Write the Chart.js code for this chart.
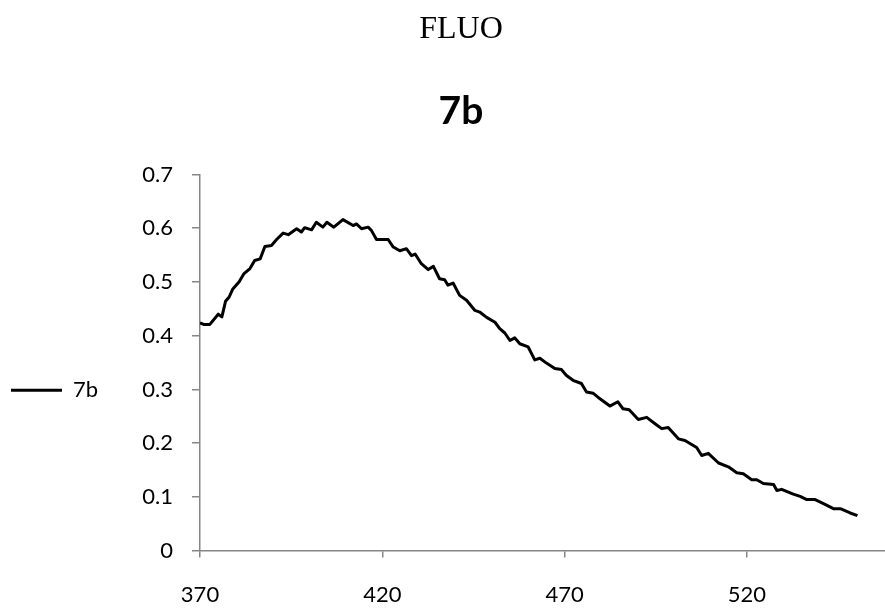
<!DOCTYPE html>
<html>
<head>
<meta charset="utf-8">
<script src="https://cdn.jsdelivr.net/npm/chart.js@4/dist/chart.umd.min.js"></script>
<style>
  html, body { margin: 0; padding: 0; background: #ffffff; overflow: hidden; }
  #wrap { width: 885px; height: 608px; overflow: hidden; }
  canvas { display: block; }
</style>
</head>
<body>
<div id="wrap"><canvas id="c" width="922" height="608" style="width:922px;height:608px"></canvas></div>
<script>
// ---- data ----
const pageTitle = "FLUO";
const seriesName = "7b";

const wavelengths = [
  370, 371, 372.7, 375, 376, 377, 378, 379, 380.7, 382, 383.7, 385, 386.5, 387.8, 389.6,
  391, 392.8, 394.2, 396.5, 397.8, 398.7, 400.6, 401.9, 403.7, 404.8, 406.7, 409.2, 412,
  412.9, 414.3, 416.1, 417, 418.4, 421.6, 423, 424.8, 426.6, 428, 429, 430.7, 432.6, 434,
  435.7, 437.1, 438, 439.4, 441.2, 443.1, 445.4, 446.7, 448.6, 450.9, 452.2, 453.6, 455,
  456.3, 457.7, 460, 461.8, 463.2, 465, 467.3, 469.1, 470.5, 472.3, 474.6, 476, 477.8,
  479.6, 482.4, 484.6, 486, 487.7, 490.2, 492.5, 494.8, 496.6, 498.4, 501.2, 503, 506.2,
  507.6, 509.4, 512.2, 514.9, 517.2, 519, 521.3, 522.7, 524.5, 527.3, 528.2, 529.5, 532.7,
  534.6, 536.4, 538.7, 541.4, 543.7, 545.6, 548.3, 550.3
];

const intensity = [
  0.424, 0.421, 0.421, 0.440, 0.435, 0.464, 0.472, 0.487, 0.500, 0.515, 0.525, 0.540, 0.543, 0.566, 0.568,
  0.579, 0.591, 0.588, 0.599, 0.593, 0.601, 0.597, 0.611, 0.602, 0.611, 0.602, 0.616, 0.605,
  0.608, 0.599, 0.602, 0.596, 0.579, 0.579, 0.565, 0.558, 0.562, 0.549, 0.552, 0.534, 0.523, 0.529,
  0.506, 0.504, 0.494, 0.498, 0.475, 0.466, 0.447, 0.444, 0.434, 0.425, 0.413, 0.405, 0.391,
  0.396, 0.385, 0.379, 0.355, 0.358, 0.349, 0.339, 0.337, 0.326, 0.317, 0.311, 0.295, 0.293,
  0.283, 0.269, 0.277, 0.264, 0.262, 0.244, 0.248, 0.236, 0.227, 0.229, 0.208, 0.205, 0.192,
  0.177, 0.181, 0.163, 0.156, 0.145, 0.143, 0.132, 0.132, 0.125, 0.123, 0.112, 0.114, 0.105,
  0.101, 0.095, 0.095, 0.086, 0.078, 0.078, 0.070, 0.065
];

const xTicks = [370, 420, 470, 520];
const xTickLabels = ["370", "420", "470", "520"];
const yTicks = [0, 0.1, 0.2, 0.3, 0.4, 0.5, 0.6, 0.7];
const yTickLabels = ["0", "0.1", "0.2", "0.3", "0.4", "0.5", "0.6", "0.7"];

// ---- chart ----
const points = wavelengths.map((w, i) => ({ x: w, y: intensity[i] }));
const AXIS = "#868686";
const PLOT_LEFT = 200;
const X_AXIS_HEIGHT = 57.4;

Chart.defaults.font.family = "Lato, 'Open Sans', sans-serif";
Chart.defaults.color = "#000000";

new Chart(document.getElementById("c"), {
  type: "line",
  data: {
    datasets: [{
      label: seriesName,
      data: points,
      borderColor: "#000000",
      backgroundColor: "#000000",
      borderWidth: 3,
      pointRadius: 0,
      pointHoverRadius: 0,
      tension: 0,
      borderJoinStyle: "round",
      fill: false
    }]
  },
  options: {
    responsive: false,
    animation: false,
    devicePixelRatio: 1,
    layout: { padding: { left: 0, right: 0, top: 0, bottom: 0 } },
    plugins: {
      title: {
        display: true,
        text: pageTitle,
        color: "#000000",
        font: { family: "'Liberation Serif', 'Times New Roman', serif", size: 32, weight: "normal" },
        padding: { top: 10.3, bottom: 0 }
      },
      subtitle: {
        display: true,
        text: seriesName,
        color: "#000000",
        font: { family: "Lato, sans-serif", size: 39, weight: "bold" },
        padding: { top: 39, bottom: 40 }
      },
      legend: {
        display: true,
        position: "left",
        fullSize: false,
        align: "center",
        title: { display: true, text: " ", font: { size: 12 }, padding: { top: 41, bottom: 0 } },
        labels: {
          usePointStyle: true,
          pointStyle: "line",
          pointStyleWidth: 51,
          padding: 11,
          color: "#000000",
          font: { family: "Lato, sans-serif", size: 22 }
        }
      },
      tooltip: { enabled: false }
    },
    scales: {
      x: {
        type: "linear",
        min: 370,
        max: 568,
        afterBuildTicks: (scale) => { scale.ticks = xTicks.map(v => ({ value: v })); },
        afterFit: (scale) => { scale.height = X_AXIS_HEIGHT; },
        ticks: {
          autoSkip: false,
          maxRotation: 0,
          padding: 24,
          color: "#000000",
          font: { size: 22 },
          callback: (v, i) => xTickLabels[i]
        },
        grid: { display: true, drawOnChartArea: false, drawTicks: true, tickLength: 7, color: AXIS, lineWidth: 1.5 },
        border: { display: true, color: AXIS, width: 1.5 }
      },
      y: {
        type: "linear",
        min: 0,
        max: 0.7,
        afterBuildTicks: (scale) => { scale.ticks = yTicks.map(v => ({ value: v })); },
        afterFit: (scale) => {
          const lg = scale.chart.legend;
          scale.width = PLOT_LEFT - (lg ? lg.width : 0);
        },
        ticks: {
          autoSkip: false,
          padding: 19,
          color: "#000000",
          font: { size: 22 },
          callback: (v, i) => yTickLabels[i]
        },
        grid: { display: true, drawOnChartArea: false, drawTicks: true, tickLength: 8, color: AXIS, lineWidth: 1.5 },
        border: { display: true, color: AXIS, width: 1.5 }
      }
    }
  }
});
</script>
</body>
</html>
